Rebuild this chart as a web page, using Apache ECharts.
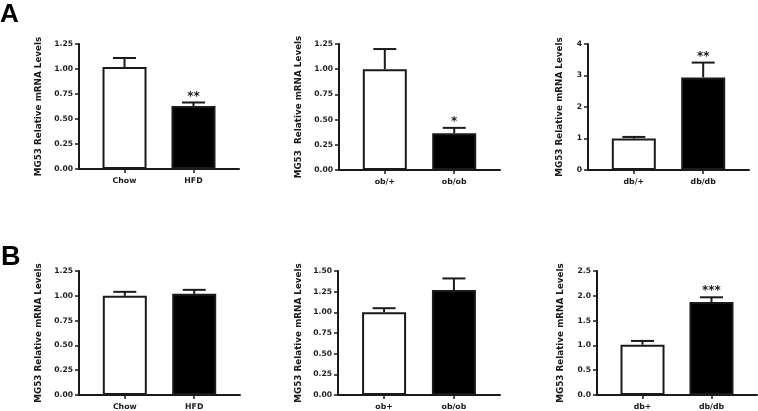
<!DOCTYPE html>
<html><head><meta charset="utf-8">
<script src="https://cdn.jsdelivr.net/npm/echarts@6/dist/echarts.min.js"></script>
<style>html,body{margin:0;padding:0;background:#fff}#c{width:758px;height:411px}</style>
</head><body><div id="c"></div>
<script>
// ---- data ----
const catsA1 = ['Chow', 'HFD'];
const meanA1 = [1.02, 0.63];
const semA1 = [0.09, 0.035];
const starsA1 = ['', '**'];

const catsA2 = ['ob/+', 'ob/ob'];
const meanA2 = [1.00, 0.365];
const semA2 = [0.20, 0.053];
const starsA2 = ['', '*'];

const catsA3 = ['db/+', 'db/db'];
const meanA3 = [1.00, 2.94];
const semA3 = [0.05, 0.47];
const starsA3 = ['', '**'];

const catsB1 = ['Chow', 'HFD'];
const meanB1 = [1.00, 1.02];
const semB1 = [0.04, 0.04];
const starsB1 = ['', ''];

const catsB2 = ['ob+', 'ob/ob'];
const meanB2 = [1.00, 1.27];
const semB2 = [0.05, 0.14];
const starsB2 = ['', ''];

const catsB3 = ['db+', 'db/db'];
const meanB3 = [1.015, 1.875];
const semB3 = [0.075, 0.095];
const starsB3 = ['', '***'];

const yMax = [1.25, 1.25, 4, 1.25, 1.5, 2.5];
const yStep = [0.25, 0.25, 1, 0.25, 0.25, 0.5];
const yDecimals = [2, 2, 0, 2, 2, 1];
const yTitles = ['MG53 Relative mRNA Levels', 'MG53  Relative mRNA Levels', 'MG53 Relative mRNA Levels',
                 'MG53 Relative mRNA Levels', 'MG53 Relative mRNA Levels', 'MG53 Relative mRNA Levels'];
const panelLetters = ['A', 'B'];

// ---- layout ----
const panels = [
  {cats: catsA1, mean: meanA1, sem: semA1, stars: starsA1},
  {cats: catsA2, mean: meanA2, sem: semA2, stars: starsA2},
  {cats: catsA3, mean: meanA3, sem: semA3, stars: starsA3},
  {cats: catsB1, mean: meanB1, sem: semB1, stars: starsB1},
  {cats: catsB2, mean: meanB2, sem: semB2, stars: starsB2},
  {cats: catsB3, mean: meanB3, sem: semB3, stars: starsB3}
];
const grids = [
  {left: 79, top: 44, width: 160, height: 125},
  {left: 339, top: 44, width: 161, height: 126},
  {left: 588, top: 44, width: 161, height: 126},
  {left: 79, top: 271, width: 161, height: 126},
  {left: 338, top: 271, width: 162, height: 126},
  {left: 597, top: 271, width: 160, height: 126}
];
const nameGaps = [36, 36, 24, 36, 35, 32];
const ink = '#1a1a1a';
const fontFam = 'DejaVu Sans';

const xAxes = [], yAxes = [], series = [];
panels.forEach((p, i) => {
  xAxes.push({
    gridIndex: i, type: 'value', min: -0.66, max: 1.66,
    axisLine: {show: true, onZero: false, lineStyle: {color: ink, width: 2}},
    splitLine: {show: false},
    axisTick: {show: true, customValues: [0, 1], length: 4, lineStyle: {color: ink, width: 1.5}},
    axisLabel: {customValues: [0, 1], formatter: v => p.cats[Math.round(v)], margin: 8,
      fontSize: 7.8, fontWeight: 'bold', fontFamily: fontFam, color: ink}
  });
  yAxes.push({
    gridIndex: i, type: 'value', min: 0, max: yMax[i], interval: yStep[i],
    name: yTitles[i], nameLocation: 'middle', nameGap: nameGaps[i],
    nameTextStyle: {fontSize: 8.8, fontWeight: 'bold', fontFamily: fontFam, color: ink},
    axisLine: {show: true, onZero: false, lineStyle: {color: ink, width: 2}},
    axisTick: {show: true, length: 4, lineStyle: {color: ink, width: 1.5}},
    splitLine: {show: false},
    axisLabel: {formatter: v => v.toFixed(yDecimals[i]), margin: 6, showMinLabel: true, showMaxLabel: true,
      fontSize: 7.6, fontWeight: 'bold', fontFamily: fontFam, color: ink}
  });
  series.push({
    type: 'bar', xAxisIndex: i, yAxisIndex: i, barWidth: 44,
    itemStyle: {borderColor: ink, borderWidth: 2},
    data: p.mean.map((v, j) => ({value: [j, v], itemStyle: {color: j === 0 ? '#ffffff' : '#000000'}}))
  });
  series.push({
    type: 'custom', xAxisIndex: i, yAxisIndex: i, z: 5, clip: false,
    data: p.mean.map((v, j) => [j, v, p.sem[j]]),
    renderItem: (params, api) => {
      const x = api.value(0), m = api.value(1), e = api.value(2);
      const base = api.coord([x, m]);
      const top = api.coord([x, m + e]);
      const half = 11.5;
      const children = [
        {type: 'line', shape: {x1: base[0], y1: base[1], x2: top[0], y2: top[1]}, style: {stroke: ink, lineWidth: 2}},
        {type: 'line', shape: {x1: top[0] - half, y1: top[1], x2: top[0] + half, y2: top[1]}, style: {stroke: ink, lineWidth: 2}}
      ];
      const s = p.stars[params.dataIndex];
      if (s) {
        children.push({type: 'text', x: top[0], y: top[1] - 6,
          style: {text: s, fill: ink, font: 'bold 12px "DejaVu Sans"', align: 'center', verticalAlign: 'middle',
                  textAlign: 'center', textVerticalAlign: 'middle'}});
      }
      return {type: 'group', children};
    }
  });
});

const chart = echarts.init(document.getElementById('c'), null, {renderer: 'canvas'});
chart.setOption({
  animation: false,
  backgroundColor: '#ffffff',
  title: [
    {text: panelLetters[0], left: 0, top: 2, padding: 0, textStyle: {fontSize: 26, fontWeight: 'bold', fontFamily: 'Liberation Sans', color: '#000'}},
    {text: panelLetters[1], left: 1, top: 244, padding: 0, textStyle: {fontSize: 27, fontWeight: 'bold', fontFamily: 'Liberation Sans', color: '#000'}}
  ],
  grid: grids,
  xAxis: xAxes,
  yAxis: yAxes,
  series
});
</script></body></html>
